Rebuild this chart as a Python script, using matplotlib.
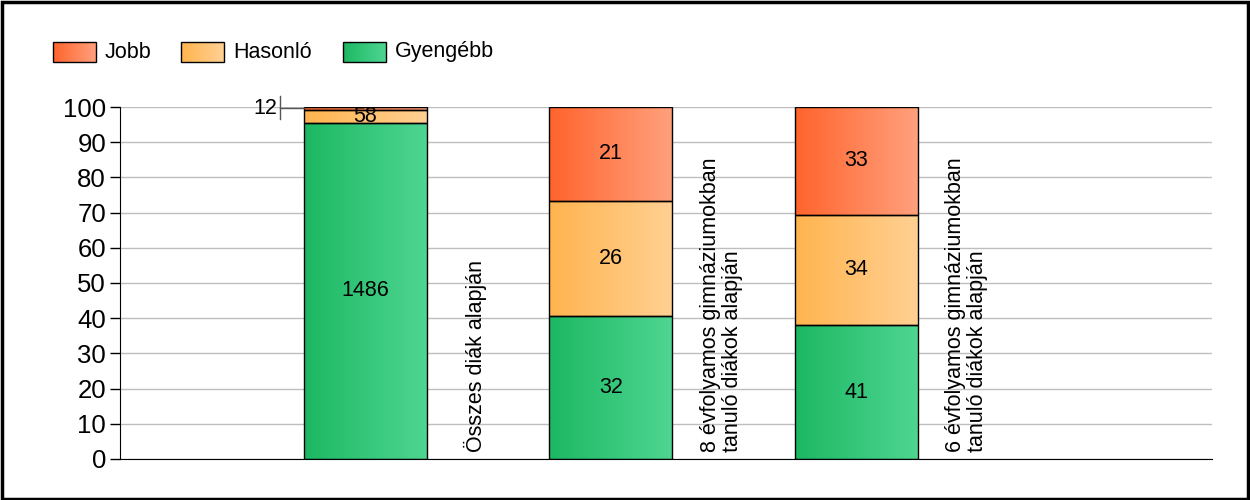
import numpy as np
import matplotlib
matplotlib.use("Agg")
import matplotlib.pyplot as plt
from matplotlib.colors import LinearSegmentedColormap
from matplotlib.patches import Rectangle

plt.rcParams['font.family'] = ['Liberation Sans', 'DejaVu Sans']

categories = ["Összes diák alapján",
              "8 évfolyamos gimnáziumokban\ntanuló diákok alapján",
              "6 évfolyamos gimnáziumokban\ntanuló diákok alapján"]
series_names = ["Jobb", "Hasonló", "Gyengébb"]
gyengebb = [1486, 32, 41]
hasonlo = [58, 26, 34]
jobb = [12, 21, 33]
yticks = list(range(0, 101, 10))

# gradient colours (left -> right) per series
grad = {
    "Jobb": ("#FF642D", "#FFA07C"),
    "Hasonló": ("#FFB44F", "#FFD092"),
    "Gyengébb": ("#1DB863", "#4ED591"),
}


def gradient_rect(ax, x0, x1, y0, y1, colors, zorder=2):
    cmap = LinearSegmentedColormap.from_list("g", colors)
    img = np.linspace(0, 1, 64).reshape(1, -1)
    ax.imshow(img, cmap=cmap, extent=[x0, x1, y0, y1], aspect="auto",
              interpolation="bicubic", zorder=zorder)
    ax.add_patch(Rectangle((x0, y0), x1 - x0, y1 - y0, fill=False,
                           edgecolor="black", linewidth=1, zorder=zorder + 0.1))


fig = plt.figure(figsize=(12.5, 5), dpi=100)
ax = fig.add_axes([0.096, 0.082, 0.8736, 0.704])

xs = np.arange(1, len(categories) + 1)
width = 0.5
for i, x in enumerate(xs):
    total = gyengebb[i] + hasonlo[i] + jobb[i]
    vals = [gyengebb[i], hasonlo[i], jobb[i]]
    names = ["Gyengébb", "Hasonló", "Jobb"]
    bottom = 0.0
    for v, n in zip(vals, names):
        h = v / total * 100
        gradient_rect(ax, x - width / 2, x + width / 2, bottom, bottom + h, grad[n])
        if h > 2:
            ax.text(x, bottom + h / 2, str(v), ha="center", va="center",
                    fontsize=15.5, zorder=5)
        else:
            # small segment: label outside with leader line
            ym = bottom + h / 2
            ax.plot([x - width / 2, x - width / 2 - 0.1], [ym, ym],
                    color="#555555", lw=1, zorder=5, clip_on=False)
            ax.plot([x - width / 2 - 0.1, x - width / 2 - 0.1], [ym - 3.0, ym + 3.5],
                    color="#555555", lw=1, zorder=5, clip_on=False)
            ax.text(x - width / 2 - 0.11, ym, str(v), ha="right", va="center",
                    fontsize=15.5, zorder=5)
        bottom += h
    ax.text(x + 0.45, 2, categories[i], rotation=90, ha="center", va="bottom",
            fontsize=15.5, multialignment="left", linespacing=1.05)

ax.set_xlim(0, 4.45)
ax.set_ylim(0, 100)
ax.set_yticks(yticks)
ax.set_yticklabels([str(t) for t in yticks], fontsize=18.5)
ax.set_xticks([])
ax.yaxis.grid(True, color="#BEBEBE", linewidth=1)
ax.set_axisbelow(True)
for s in ["top", "right"]:
    ax.spines[s].set_visible(False)
ax.spines["left"].set_color("black")
ax.spines["bottom"].set_color("black")
ax.tick_params(axis="y", length=7, width=1, pad=3)

# legend drawn in pixel-like figure coordinates
lax = fig.add_axes([0, 0, 1, 1])
lax.set_xlim(0, 1250)
lax.set_ylim(500, 0)
lax.axis("off")
leg_x = [53, 181, 343]
for lx, n in zip(leg_x, series_names):
    gradient_rect(lax, lx, lx + 43, 62, 42, grad[n])
    lax.text(lx + 52, 52, n, ha="left", va="center", fontsize=15.5)

# figure border
fig.patches.append(Rectangle((0.0015, 0.003), 0.997, 0.994, transform=fig.transFigure,
                             fill=False, edgecolor="black", linewidth=2.5))

fig.savefig("out.png", dpi=100)
